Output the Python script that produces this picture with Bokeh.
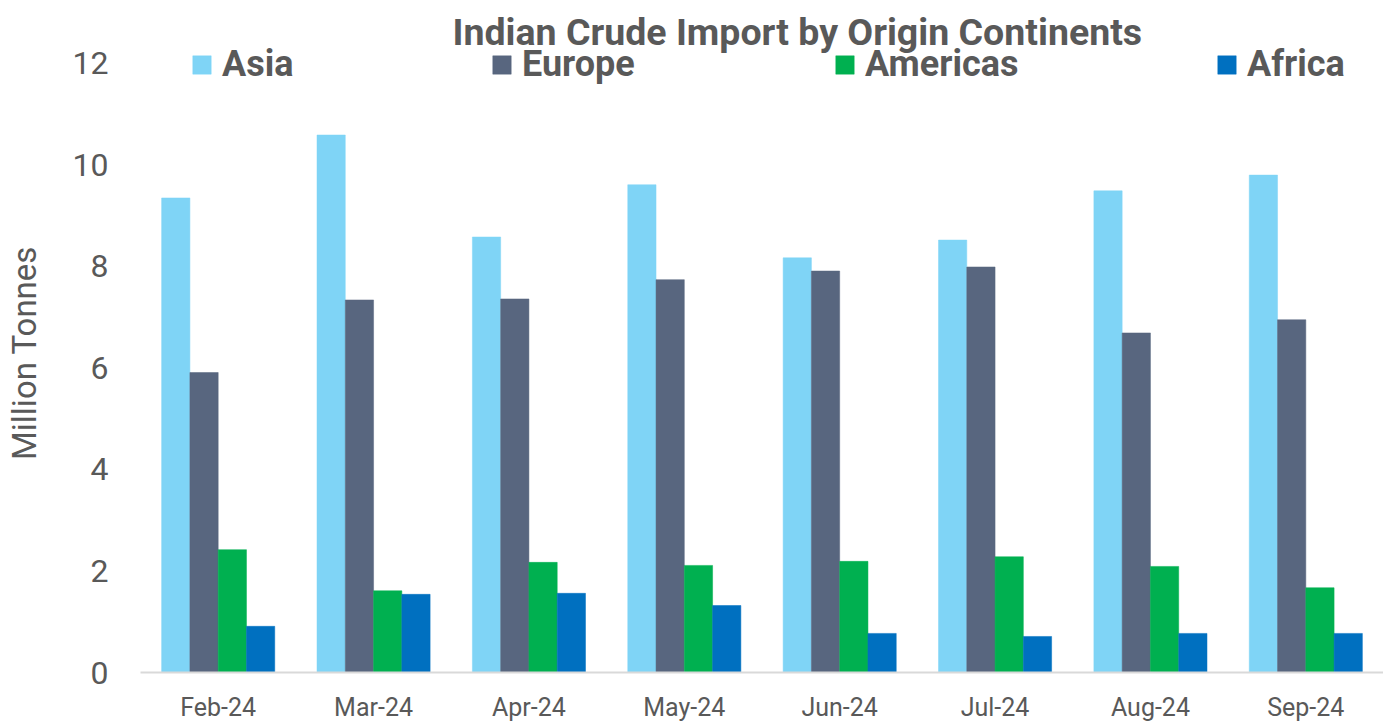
from bokeh.plotting import figure
from bokeh.models import ColumnDataSource, FactorRange, Range1d, Legend, LegendItem, FixedTicker
from bokeh.transform import dodge
from bokeh.embed import file_html
from bokeh.resources import INLINE

months = ["Feb-24", "Mar-24", "Apr-24", "May-24", "Jun-24", "Jul-24", "Aug-24", "Sep-24"]
asia = [9.35, 10.59, 8.58, 9.61, 8.17, 8.52, 9.49, 9.80]
europe = [5.91, 7.34, 7.36, 7.74, 7.91, 7.99, 6.69, 6.95]
americas = [2.42, 1.61, 2.17, 2.11, 2.19, 2.28, 2.09, 1.67]
africa = [0.91, 1.54, 1.56, 1.32, 0.77, 0.71, 0.77, 0.77]
series_names = ["Asia", "Europe", "Americas", "Africa"]
y_ticks = [0, 2, 4, 6, 8, 10, 12]
title_text = "Indian Crude Import by Origin Continents"
y_title = "Million Tonnes"

colors = ["#7FD4F6", "#58667F", "#00B050", "#0070C0"]
TXT = "#595959"

src = ColumnDataSource(dict(month=months, Asia=asia, Europe=europe, Americas=americas, Africa=africa))

p = figure(x_range=FactorRange(*months), y_range=Range1d(0, 12.59),
           width=1383, height=724, output_backend="svg", toolbar_location=None,
           min_border_left=140, min_border_right=0, min_border_top=33, min_border_bottom=0)
p.outline_line_color = None
p.xgrid.grid_line_color = None
p.ygrid.grid_line_color = None

offsets = [-0.273, -0.091, 0.091, 0.273]
renderers = []
for name, off, col in zip(series_names, offsets, colors):
    r = p.vbar(x=dodge("month", off, range=p.x_range), top=name, width=0.182, source=src,
               fill_color=col, line_color=col, line_width=0.5)
    renderers.append(r)

# title
p.title.text = title_text
p.title.text_font = "Roboto"
p.title.text_font_style = "bold"
p.title.text_font_size = "37.5px"
p.title.text_color = TXT
p.title.align = "left"
p.title.offset = 312
try:
    p.title.standoff = -40
except Exception:
    p.title.standoff = 0

# axes
p.yaxis.ticker = FixedTicker(ticks=y_ticks)
p.yaxis.axis_line_color = None
p.yaxis.major_tick_line_color = None
p.yaxis.minor_tick_line_color = None
p.yaxis.major_tick_out = 0
p.yaxis.major_label_standoff = 32
p.yaxis.major_label_text_font = "Roboto"
p.yaxis.major_label_text_font_size = "32px"
p.yaxis.major_label_text_color = TXT
p.yaxis.axis_label = y_title
p.yaxis.axis_label_text_font = "Roboto"
p.yaxis.axis_label_text_font_style = "normal"
p.yaxis.axis_label_text_font_size = "33px"
p.yaxis.axis_label_text_color = TXT
p.yaxis.axis_label_standoff = 26

p.xaxis.axis_line_color = "#D9D9D9"
p.xaxis.axis_line_width = 2
p.xaxis.major_tick_line_color = None
p.xaxis.minor_tick_line_color = None
p.xaxis.major_tick_out = 0
p.xaxis.major_label_standoff = 20
p.xaxis.major_label_text_line_height = 1.0
p.xaxis.major_label_text_font = "Roboto"
p.xaxis.major_label_text_font_size = "25px"
p.xaxis.major_label_text_color = TXT

leg_x = [50, 350, 693, 1075]
for name, r, lx in zip(series_names, renderers, leg_x):
    leg = Legend(items=[LegendItem(label=name, renderers=[r])], location=(lx, 587),
                 orientation="horizontal", padding=0, margin=0, spacing=0,
                 glyph_width=23, glyph_height=23, label_standoff=9,
                 label_text_font="Roboto", label_text_font_style="bold",
                 label_text_font_size="36px", label_text_color=TXT,
                 border_line_alpha=0, background_fill_alpha=0)
    p.add_layout(leg)

open("out.html", "w").write(file_html(p, INLINE))
